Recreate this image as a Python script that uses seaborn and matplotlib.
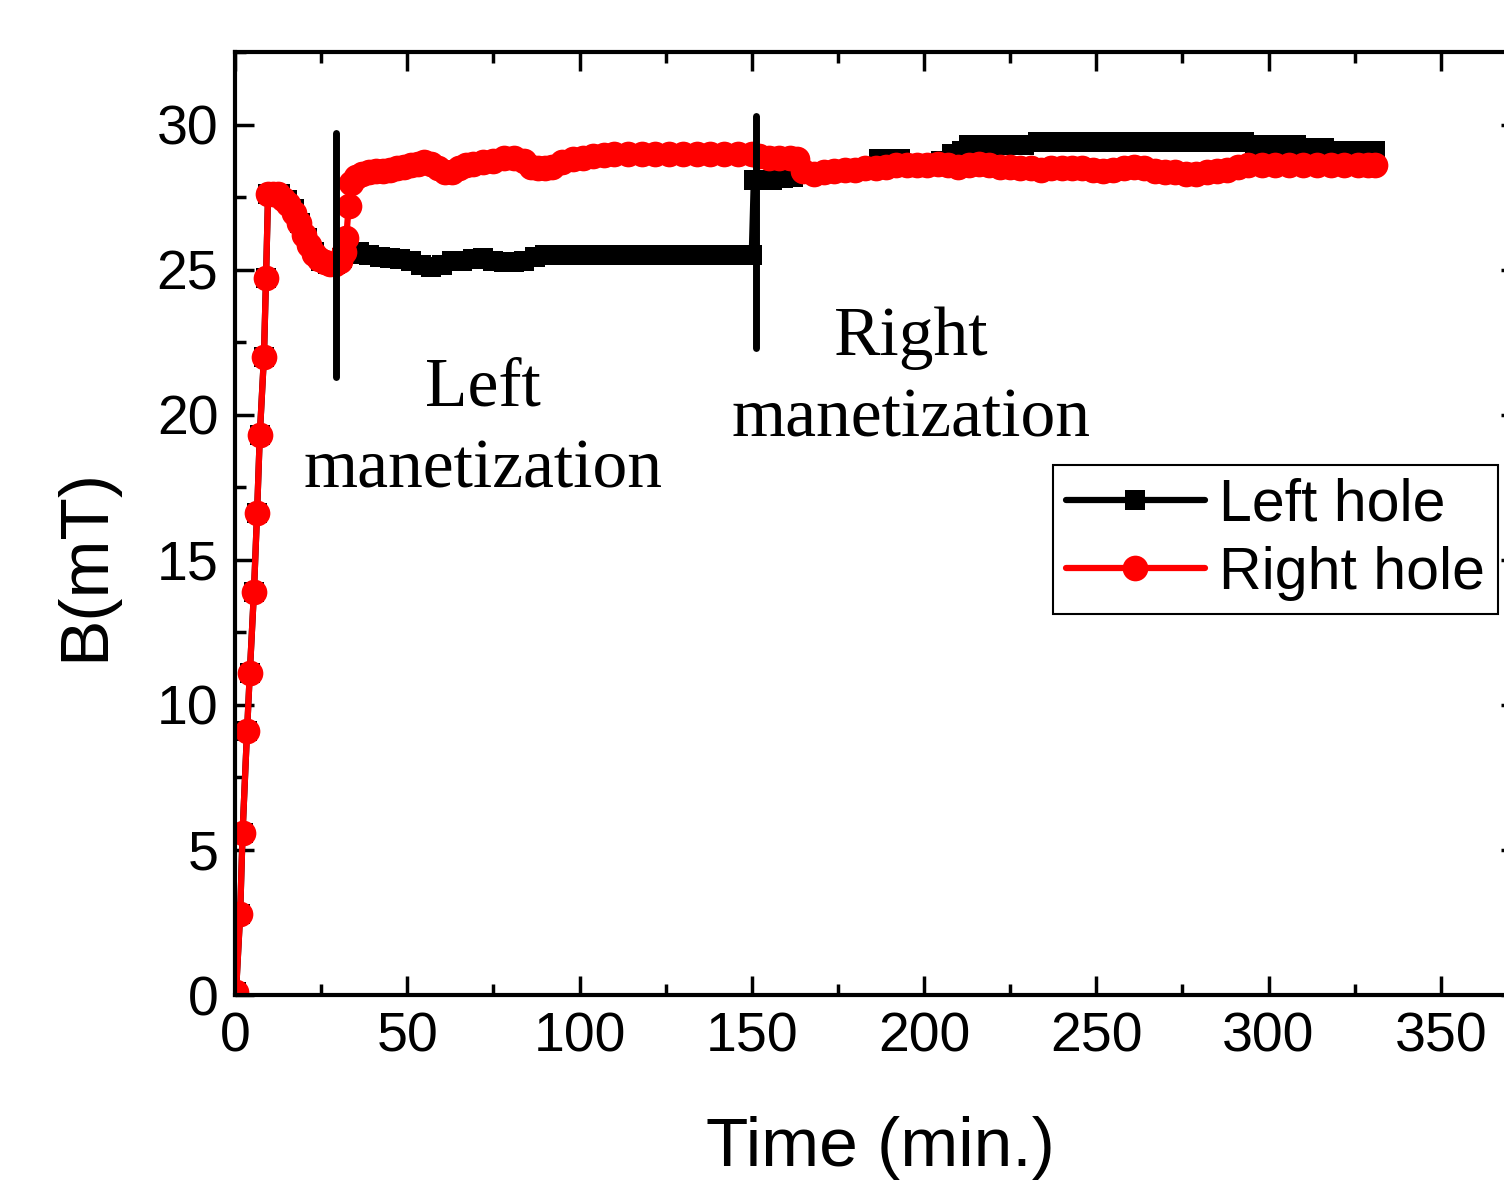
import matplotlib
matplotlib.use('Agg')
import matplotlib.pyplot as plt
import seaborn as sns
import pandas as pd
from matplotlib.ticker import MultipleLocator

sns.set_style('ticks')
plt.rcParams['font.family'] = ['Liberation Sans', 'DejaVu Sans']
plt.rcParams['text.color'] = 'black'
plt.rcParams['axes.labelcolor'] = 'black'
plt.rcParams['xtick.color'] = 'black'
plt.rcParams['ytick.color'] = 'black'

# ---------------- data ----------------
left_time = [0.3, 1.5, 2.2, 3.5, 4.3, 5.5, 6.4, 7.2, 8.4, 9.0, 9.6,
             11, 13, 15, 17, 19, 21, 23, 25, 27, 29, 31, 33, 36, 39, 42, 45, 48,
             51, 54, 57, 60, 63, 66, 69, 72, 75, 78, 81, 84, 87, 90, 94, 98,
             102, 106, 110, 114, 118, 122, 126, 130, 134, 138, 142, 146, 150,
             150.6, 153, 156, 159, 162, 165, 168, 172, 176, 180, 184, 187, 190,
             193, 196, 199, 202, 205, 208, 211, 213, 217, 221, 225, 229, 233,
             237, 241, 245, 249, 253, 257, 261, 265, 269, 273, 277, 281, 285,
             289, 293, 296, 300, 304, 308, 312, 316, 319, 323, 327, 331]
left_b = [0.1, 2.8, 5.6, 9.1, 11.1, 13.9, 16.6, 19.3, 22.0, 24.7, 27.6,
          27.65, 27.6, 27.4, 27.1, 26.6, 26.1, 25.6, 25.3, 25.2, 25.2, 25.4, 25.55, 25.6, 25.5, 25.45, 25.4, 25.35,
          25.3, 25.15, 25.1, 25.15, 25.3, 25.3, 25.35, 25.4, 25.3, 25.25, 25.25, 25.3, 25.45, 25.5, 25.5, 25.5,
          25.5, 25.5, 25.5, 25.5, 25.5, 25.5, 25.5, 25.5, 25.5, 25.5, 25.5, 25.5, 25.5,
          28.1, 28.1, 28.1, 28.15, 28.2, 28.3, 28.3, 28.35, 28.4, 28.45, 28.5, 28.8, 28.8,
          28.8, 28.65, 28.6, 28.6, 28.75, 29.0, 29.1, 29.3, 29.3, 29.3, 29.3, 29.3, 29.4,
          29.4, 29.4, 29.4, 29.4, 29.4, 29.4, 29.4, 29.4, 29.4, 29.4, 29.4, 29.4, 29.4,
          29.4, 29.4, 29.3, 29.3, 29.3, 29.3, 29.2, 29.2, 29.1, 29.1, 29.1, 29.1]

right_time = [0.3, 1.5, 2.2, 3.5, 4.3, 5.5, 6.4, 7.2, 8.4, 9.0, 9.6,
              11, 12.5, 14, 15.5, 17, 18.5, 20, 21.5, 23, 24.5, 26, 27.5, 29, 30.5,
              31.5, 32.3, 33, 33.7, 35, 37, 39, 41, 43, 45, 47, 49, 51, 53, 55, 57,
              59, 61, 63, 65, 67, 69, 72, 75, 78, 81, 84, 86, 88, 90, 92, 95, 98,
              101, 104, 107, 110, 114, 118, 122, 126, 130, 134, 138, 142, 146, 150,
              152, 155, 158, 161, 163, 165, 168, 171, 174, 177, 180, 183, 186, 189,
              192, 195, 198, 201, 204, 207, 210, 213, 216, 219, 222, 225, 228, 231,
              234, 237, 240, 243, 246, 249, 252, 255, 258, 261, 264, 267, 270, 273,
              276, 279, 282, 285, 288, 291, 294, 298, 302, 306, 310, 314, 318, 322,
              326, 329, 331]
right_b = [0.1, 2.8, 5.6, 9.1, 11.1, 13.9, 16.6, 19.3, 22.0, 24.7, 27.6,
           27.6, 27.6, 27.45, 27.25, 26.95, 26.6, 26.2, 25.85, 25.55, 25.35, 25.25, 25.2, 25.2, 25.3,
           25.6, 26.1, 27.2, 28.0, 28.2, 28.3, 28.35, 28.4, 28.4, 28.45, 28.5, 28.55, 28.6, 28.65, 28.7, 28.65,
           28.5, 28.35, 28.35, 28.5, 28.6, 28.65, 28.7, 28.75, 28.85, 28.85, 28.75, 28.55, 28.5, 28.5, 28.55, 28.7, 28.8,
           28.85, 28.9, 28.95, 29.0, 29.0, 29.0, 29.0, 29.0, 29.0, 29.0, 29.0, 29.0, 29.0, 29.0,
           28.9, 28.85, 28.85, 28.85, 28.8, 28.4, 28.3, 28.35, 28.4, 28.45, 28.45, 28.5, 28.5, 28.55,
           28.6, 28.6, 28.6, 28.6, 28.65, 28.6, 28.55, 28.6, 28.65, 28.6, 28.55, 28.55, 28.5, 28.5,
           28.45, 28.5, 28.5, 28.5, 28.5, 28.45, 28.4, 28.45, 28.5, 28.55, 28.5, 28.4, 28.35, 28.35,
           28.3, 28.3, 28.35, 28.4, 28.45, 28.55, 28.6, 28.6, 28.6, 28.6, 28.6, 28.6, 28.6, 28.6,
           28.6, 28.6, 28.6]

series_labels = ['Left hole', 'Right hole']
series_colors = ['black', '#ff0000']

# magnetization switch markers (annotation lines)
switch_time = [29.3, 151.3]
switch_low = [21.3, 22.3]
switch_high = [29.7, 30.3]
annot_text = ['Left\nmanetization', 'Right\nmanetization']
annot_x = [72.0, 196.3]
annot_y = [17.5, 19.25]   # baseline of the last text line

x_ticks = [0, 50, 100, 150, 200, 250, 300, 350]
y_ticks = [0, 5, 10, 15, 20, 25, 30]

# ---------------- figure ----------------
W, H = 1504, 1181
fig = plt.figure(figsize=(W / 100, H / 100), dpi=100)
fig.patch.set_facecolor('white')
ax = fig.add_axes([235 / W, 186 / H, 1285 / W, 943 / H])
ax.set_facecolor('white')

df_left = pd.DataFrame({'Time': left_time, 'B': left_b})
df_right = pd.DataFrame({'Time': right_time, 'B': right_b})

sns.lineplot(data=df_left, x='Time', y='B', ax=ax, color=series_colors[0],
             marker='s', markersize=15, markeredgewidth=0, linewidth=4.5,
             estimator=None, sort=False, label=series_labels[0], legend=False)
sns.lineplot(data=df_right, x='Time', y='B', ax=ax, color=series_colors[1],
             marker='o', markersize=18.5, markeredgewidth=0, linewidth=4.5,
             estimator=None, sort=False, label=series_labels[1], legend=False)

ax.vlines(switch_time, switch_low, switch_high, colors='black', linewidth=5,
          capstyle='round', zorder=5)

for txt, xx, yy in zip(annot_text, annot_x, annot_y):
    ax.text(xx, yy, txt, family=['Liberation Serif', 'DejaVu Serif'], fontsize=50,
            ha='center', va='baseline', multialignment='center', linespacing=1.38,
            color='black')

ax.set_xlim(0, 373)
ax.set_ylim(0, 32.5)
ax.set_xticks(x_ticks)
ax.set_yticks(y_ticks)
ax.xaxis.set_minor_locator(MultipleLocator(25))
ax.yaxis.set_minor_locator(MultipleLocator(2.5))
ax.tick_params(which='both', direction='in', top=True, right=True,
               width=2.5, color='black', labelcolor='black')
ax.tick_params(which='major', length=14, labelsize=40, pad=12)
ax.tick_params(which='minor', length=8)
for sp in ax.spines.values():
    sp.set_linewidth(3)
    sp.set_color('black')

ax.set_xlabel('Time (min.)', fontsize=50, color='black')
ax.set_ylabel('B(mT)', fontsize=50, color='black')
ax.xaxis.set_label_coords(0.502, -0.128)
ax.yaxis.set_label_coords(-0.092, 0.456)

handles, labels = ax.get_legend_handles_labels()
leg = ax.legend(handles, labels, loc='upper left',
                bbox_to_anchor=(1053 / W, 1 - 465 / H), bbox_transform=fig.transFigure,
                fontsize=42.5, frameon=True, fancybox=False, edgecolor='black',
                handlelength=2.35, handletextpad=0.25, labelspacing=0.22,
                borderpad=0.22, borderaxespad=0)
leg.get_frame().set_linewidth(1.5)
leg.get_frame().set_alpha(1)
for t in leg.get_texts():
    t.set_color('black')

fig.savefig('out.png', dpi=100, facecolor='white')
